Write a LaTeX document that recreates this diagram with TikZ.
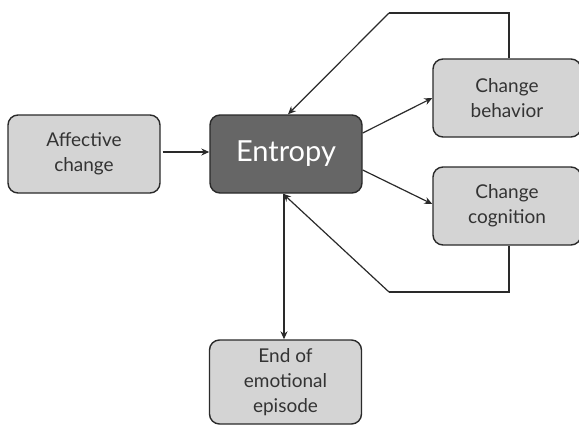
\documentclass[tikz,border=0pt]{standalone}
\usepackage{fontspec}
\setmainfont{Lato}
\usetikzlibrary{arrows.meta}
\definecolor{boxfill}{HTML}{D4D4D4}
\definecolor{darkfill}{HTML}{666666}
\definecolor{edge}{HTML}{2A2A2A}
\definecolor{txt}{HTML}{333333}
\begin{document}
\begin{tikzpicture}[x=1pt,y=-1pt,
  lightbox/.style={draw=edge,line width=1.4pt,fill=boxfill,rounded corners=10pt,
    minimum width=#1,align=center,text=txt,font=\fontsize{19}{25}\selectfont,inner sep=0pt},
  lightbox/.default=152pt,
  conn/.style={draw=edge,line width=1.2pt,-{Stealth[length=8pt,width=7pt]}},
  plain/.style={draw=edge,line width=1.2pt}]
\useasboundingbox (0,0) rectangle (579,424);
\node[lightbox, minimum height=78pt] (aff) at (84,154) {Affective\\change};
\node[draw=edge,line width=1.4pt,fill=darkfill,rounded corners=10pt,minimum width=152pt,
  minimum height=78pt,text=white,font=\fontsize{29}{34}\selectfont] (ent) at (286,154) {Entropy};
\node[lightbox=148pt, minimum height=78pt] (beh) at (507,98) {Change\\behavior};
\node[lightbox=148pt, minimum height=78pt] (cog) at (507,206) {Change\\cognition};
\node[lightbox, minimum height=84pt] (end) at (285.5,382) {End of\\emotional\\episode};
\coordinate (t1) at (509,13);
\coordinate (t2) at (389,13);
\coordinate (b1) at (509,292);
\coordinate (b2) at (389,292);
\draw[conn] ([xshift=2pt]aff.east |- 0,152) -- (ent.west |- 0,152);
\draw[conn] (ent.east |- 0,133) -- (beh.west |- 0,98);
\draw[conn] (ent.east |- 0,170) -- (cog.west |- 0,204);
\draw[plain] (beh.north -| t1) -- (t1) -- (t2);
\draw[conn] (t2) -- (ent.north -| 288,0);
\draw[plain] (cog.south -| b1) -- (b1) -- (b2);
\draw[conn] (b2) -- (ent.south -| 283,0);
\draw[conn] (ent.south -| 284,0) -- (end.north -| 284,0);
\end{tikzpicture}
\end{document}
